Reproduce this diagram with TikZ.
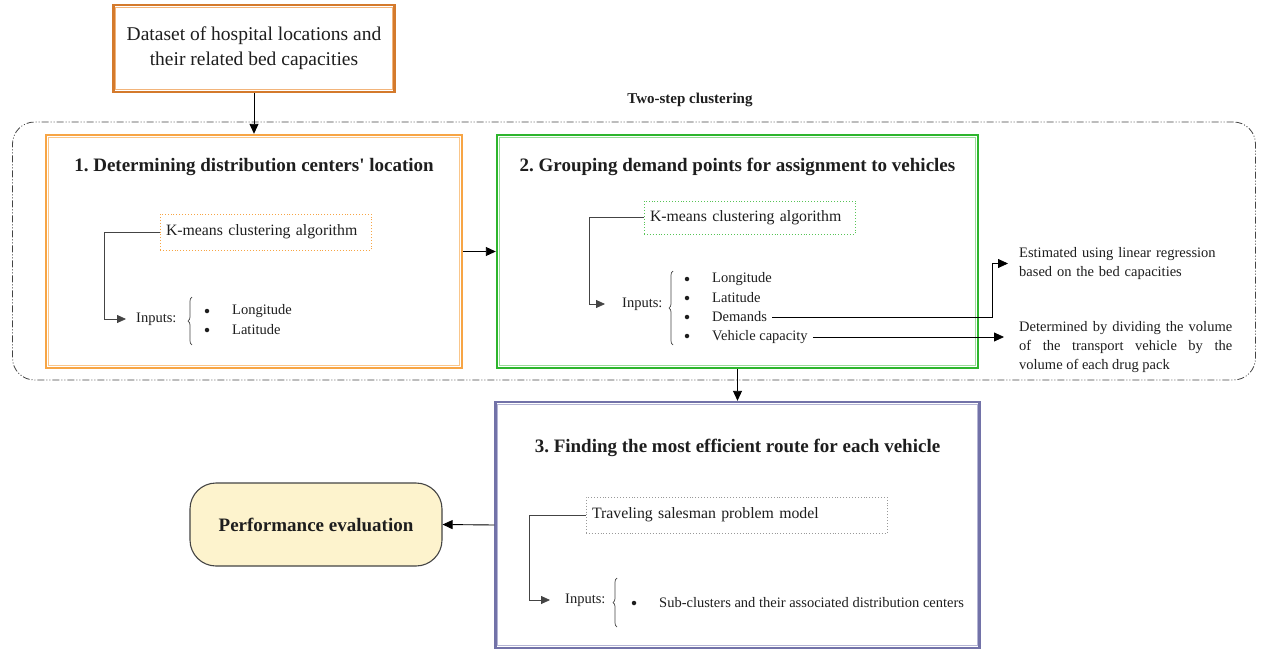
\documentclass[tikz,border=0pt]{standalone}
\usepackage{fontspec}
\setmainfont{Liberation Serif}
\usetikzlibrary{arrows.meta,calc,decorations.pathreplacing}
\definecolor{topO}{HTML}{D47A2C}
\definecolor{topI}{HTML}{F2B47A}
\definecolor{oneO}{HTML}{F7A545}
\definecolor{oneI}{HTML}{FAC68A}
\definecolor{twoO}{HTML}{2DB52D}
\definecolor{twoI}{HTML}{98DC98}
\definecolor{thrO}{HTML}{7272A8}
\definecolor{thrI}{HTML}{B4B4D4}
\definecolor{perfF}{HTML}{FDF3CD}
\definecolor{txt}{HTML}{1E1E1E}
\definecolor{lnc}{HTML}{444444}
\begin{document}
\frenchspacing
\hyphenpenalty=10000
\exhyphenpenalty=10000
\begin{tikzpicture}[x=1pt,y=-1pt,
  outerbox/.style={draw, line width=2.4pt, inner sep=0pt},
  innerbox/.style={line width=0.9pt},
  ttl/.style={font=\bfseries\fontsize{19}{22}\selectfont, text=txt},
  algo/.style={draw, dotted, line width=0.9pt, inner sep=0pt, font=\fontsize{15.8}{18}\selectfont, text=txt},
  small/.style={font=\fontsize{14.5}{19}\selectfont, text=txt, inner sep=1pt},
  bul/.style={circle, fill=txt, inner sep=0pt, minimum size=4.5pt},
  arr/.style={-{Triangle[length=10pt,width=9pt]}, line width=0.9pt, draw=black},
  sub/.style={-{Triangle[length=9pt,width=8pt]}, line width=0.8pt, draw=lnc},
  brc/.style={decorate, decoration={brace, amplitude=4pt}, line width=0.7pt, draw=lnc},
  frm/.style={draw=lnc, line width=0.8pt, rounded corners=22pt, dash pattern=on 7pt off 2pt on 1pt off 2pt on 1pt off 2pt},
]
\useasboundingbox (0,0) rectangle (1262,653);
\fill[white] (0,0) rectangle (1262,653);

% frame
\node[frm, minimum width=1243pt, minimum height=258pt] (fr) at (634,251) {};
\node[font=\bfseries\fontsize{15}{18}\selectfont, text=txt] (two) at (690,100) {Two-step clustering};

% top box
\node[outerbox, draw=topO, minimum width=281pt, minimum height=87pt, align=center,
      font=\fontsize{19.5}{25}\selectfont, text=txt] (data) at (254,48.5)
      {Dataset of hospital locations and\\their related bed capacities};
\draw[innerbox, draw=topI] ($(data.north west)+(3.5,3.5)$) rectangle ($(data.south east)+(-3.5,-3.5)$);

% box 1
\node[outerbox, draw=oneO, minimum width=416pt, minimum height=233pt] (b1) at (254,251.5) {};
\draw[innerbox, draw=oneI] ($(b1.north west)+(3.5,3.5)$) rectangle ($(b1.south east)+(-3.5,-3.5)$);
\node[ttl] (t1) at (254,167) {1. Determining distribution centers\textquotesingle{} location};
\node[algo, draw=oneO, minimum width=211pt, minimum height=36pt, text width=199pt, align=left] (k1) at (265.5,232) {K-means clustering algorithm};
\node[small, anchor=west, inner xsep=10pt] (in1) at (126,319) {Inputs:};
\draw[brc] (192,345) -- (192,297);
\node[bul] (b1a) at (207,311) {};
\node[bul] (b1b) at (207,330) {};
\node[small, anchor=west] (lo1) at (231,311) {Longitude};
\node[small, anchor=west] (la1) at (231,330) {Latitude};
\draw[sub] (k1.west) -- ++(-55,0) |- (in1.west);

% box 2
\node[outerbox, draw=twoO, minimum width=481pt, minimum height=233pt] (b2) at (737.5,251.5) {};
\draw[innerbox, draw=twoI] ($(b2.north west)+(3.5,3.5)$) rectangle ($(b2.south east)+(-3.5,-3.5)$);
\node[ttl] (t2) at (737.5,167) {2. Grouping demand points for assignment to vehicles};
\node[algo, draw=twoO!80, minimum width=211pt, minimum height=33pt, text width=199pt, align=left] (k2) at (749.5,217.5) {K-means clustering algorithm};
\node[small, anchor=west, inner xsep=17pt] (in2) at (605,304) {Inputs:};
\draw[brc] (673,345) -- (673,271);
\node[bul] (b2a) at (687,279) {};
\node[bul] (b2b) at (687,298) {};
\node[bul] (b2c) at (687,317) {};
\node[bul] (b2d) at (687,336) {};
\node[small, anchor=west] (lo2) at (711,279) {Longitude};
\node[small, anchor=west] (la2) at (711,298) {Latitude};
\node[small, anchor=west, inner xsep=5pt] (dem) at (707,317) {Demands};
\node[small, anchor=west, inner xsep=5pt] (vc) at (707,337) {Vehicle capacity};
\draw[sub] (k2.west) -- ++(-54,0) |- (in2.west);

% side notes
\node[small, anchor=west, inner xsep=11pt, text width=210pt, align=left] (est) at (1008,263.5)
  {Estimated using linear regression\\based on the bed capacities};
\node[small, anchor=west, inner xsep=15pt, text width=213pt, align=justify] (det) at (1004,347)
  {Determined by dividing the volume of the transport vehicle by the volume of each drug pack};
\coordinate (bend) at (992,317);
\draw[arr, line width=0.8pt] (dem.east) -- (bend) |- (est.west);
\draw[arr, line width=0.8pt] (vc.east) -- (vc.east -| det.west);

% box 3
\node[outerbox, draw=thrO, minimum width=484pt, minimum height=246pt] (b3) at (737.5,525) {};
\draw[innerbox, draw=thrI] ($(b3.north west)+(3.5,3.5)$) rectangle ($(b3.south east)+(-3.5,-3.5)$);
\node[ttl] (t3) at (737.5,448) {3. Finding the most efficient route for each vehicle};
\node[algo, draw=gray!80, minimum width=301pt, minimum height=36pt, text width=289pt, align=left] (k3) at (736.5,515) {Traveling salesman problem model};
\node[small, anchor=west, inner xsep=15pt] (in3) at (550,600) {Inputs:};
\draw[brc] (617,627) -- (617,578);
\node[bul] (b3a) at (634,603) {};
\node[small, anchor=west] (sc) at (658,603) {Sub-clusters and their associated distribution centers};
\draw[sub] (k3.west) -- ++(-56,0) |- (in3.west);

% performance
\node[draw=lnc, line width=1.1pt, fill=perfF, rounded corners=26pt, minimum width=252pt, minimum height=83pt,
      font=\bfseries\fontsize{19}{22}\selectfont, text=txt] (perf) at (316,524.5) {Performance evaluation};

% main connectors
\draw[arr] (data.south) -- (b1.north);
\draw[arr] (b1.east) -- (b2.west);
\draw[arr] (b2.south) -- (b3.north);
\draw[arr] (b3.west) -- (perf.east);
\end{tikzpicture}
\end{document}
